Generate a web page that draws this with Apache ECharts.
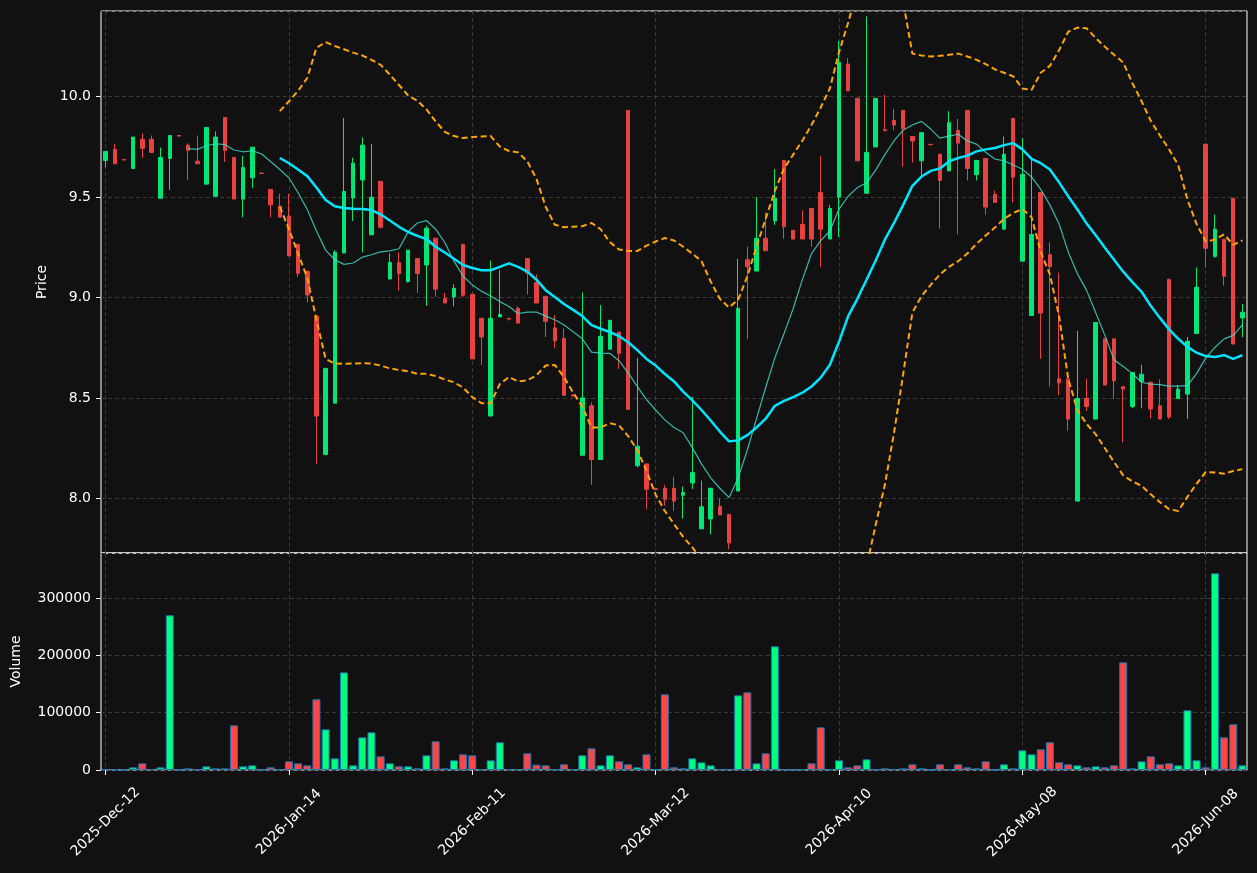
<!DOCTYPE html>
<html>
<head>
<meta charset="utf-8">
<script src="https://cdn.jsdelivr.net/npm/echarts@6/dist/echarts.min.js"></script>
<style>
html, body { margin: 0; padding: 0; background: #111111; }
#chart { width: 1257px; height: 873px; }
</style>
</head>
<body>
<div id="chart"></div>
<script>
// trading days: weekdays from the start date, minus these closed days
const startDate = '2025-12-12';
const holidays = ['2025-12-25', '2025-12-26', '2026-01-01', '2026-02-16', '2026-04-03', '2026-05-25'];
const monthNames = ['Jan', 'Feb', 'Mar', 'Apr', 'May', 'Jun', 'Jul', 'Aug', 'Sep', 'Oct', 'Nov', 'Dec'];

const opens = [
    9.682, 9.737, 9.687, 9.642, 9.787, 9.787, 9.494, 9.692, 9.806, 9.758,
    9.678, 9.564, 9.504, 9.896, 9.697, 9.490, 9.596, 9.619, 9.538, 9.455,
    9.404, 9.265, 9.131, 8.908, 8.220, 8.475, 9.222, 9.495, 9.585, 9.312,
    9.578, 9.092, 9.175, 9.080, 9.194, 9.162, 9.295, 8.996, 9.003, 9.265,
    9.016, 8.897, 8.411, 8.904, 8.897, 8.947, 9.194, 9.075, 9.006, 8.849,
    8.797, 8.515, 8.216, 8.462, 8.195, 8.743, 8.828, 9.931, 8.164, 8.173,
    8.050, 8.052, 8.052, 8.017, 8.078, 7.850, 7.899, 7.962, 7.922, 8.038,
    9.188, 9.132, 9.295, 9.381, 9.682, 9.334, 9.364, 9.443, 9.523, 9.291,
    9.499, 10.161, 9.991, 9.519, 9.749, 9.834, 9.881, 9.931, 9.801, 9.680,
    9.762, 9.713, 9.630, 9.832, 9.931, 9.611, 9.692, 9.513, 9.340, 9.891,
    9.181, 8.911, 9.523, 9.213, 8.596, 8.596, 7.988, 8.498, 8.396, 8.795,
    8.795, 8.557, 8.458, 8.584, 8.579, 8.462, 9.091, 8.498, 8.520, 8.821,
    9.763, 9.205, 9.290, 9.494, 8.899
];
const highs = [
    9.727, 9.765, 9.687, 9.798, 9.817, 9.806, 9.746, 9.806, 9.806, 9.767,
    9.806, 9.846, 9.827, 9.896, 9.697, 9.706, 9.748, 9.619, 9.538, 9.516,
    9.516, 9.265, 9.131, 8.908, 8.648, 9.236, 9.893, 9.696, 9.796, 9.765,
    9.578, 9.219, 9.224, 9.236, 9.194, 9.357, 9.295, 9.023, 9.067, 9.265,
    9.016, 8.897, 9.184, 9.136, 8.898, 8.956, 9.194, 9.115, 9.006, 8.914,
    8.847, 8.520, 9.025, 8.479, 8.963, 8.887, 8.828, 9.931, 8.700, 8.173,
    8.050, 8.069, 8.109, 8.060, 8.506, 8.090, 8.052, 8.000, 7.922, 9.193,
    9.253, 9.500, 9.423, 9.639, 9.682, 9.334, 9.433, 9.443, 9.703, 9.461,
    10.277, 10.190, 9.991, 10.398, 9.991, 10.009, 9.939, 9.931, 9.801, 9.820,
    9.762, 9.713, 9.927, 9.888, 9.931, 9.682, 9.692, 9.532, 9.801, 9.891,
    9.793, 9.689, 9.523, 9.274, 9.124, 8.596, 8.835, 8.596, 8.876, 8.795,
    8.795, 8.557, 8.627, 8.666, 8.579, 8.593, 9.091, 8.565, 8.804, 9.150,
    9.763, 9.412, 9.290, 9.494, 8.968
];
const lows = [
    9.647, 9.665, 9.684, 9.642, 9.694, 9.722, 9.494, 9.535, 9.803, 9.585,
    9.665, 9.564, 9.504, 9.675, 9.490, 9.400, 9.545, 9.617, 9.400, 9.400,
    9.207, 9.103, 8.977, 8.173, 8.215, 8.475, 9.222, 9.381, 9.224, 9.312,
    9.343, 9.092, 9.034, 9.075, 9.023, 8.959, 9.003, 8.973, 8.956, 9.003,
    8.695, 8.665, 8.411, 8.904, 8.886, 8.873, 9.015, 8.973, 8.804, 8.748,
    8.510, 8.505, 8.216, 8.069, 8.195, 8.743, 8.645, 8.444, 8.156, 7.948,
    8.046, 7.965, 7.939, 7.901, 8.048, 7.850, 7.822, 7.919, 7.749, 8.038,
    8.795, 9.132, 9.233, 9.362, 9.293, 9.291, 9.291, 9.253, 9.153, 9.291,
    9.302, 10.028, 9.680, 9.519, 9.749, 9.828, 9.832, 9.651, 9.672, 9.608,
    9.760, 9.343, 9.630, 9.314, 9.582, 9.582, 9.412, 9.473, 9.340, 9.473,
    9.181, 8.911, 8.695, 8.557, 8.515, 8.337, 7.988, 8.437, 8.396, 8.565,
    8.498, 8.280, 8.450, 8.449, 8.398, 8.396, 8.396, 8.498, 8.396, 8.821,
    9.150, 9.198, 9.060, 8.769, 8.804
];
const closes = [
    9.727, 9.665, 9.684, 9.798, 9.742, 9.722, 9.697, 9.806, 9.803, 9.732,
    9.665, 9.846, 9.798, 9.732, 9.490, 9.647, 9.748, 9.617, 9.461, 9.400,
    9.207, 9.120, 9.013, 8.411, 8.648, 9.226, 9.528, 9.668, 9.758, 9.499,
    9.350, 9.175, 9.120, 9.236, 9.120, 9.345, 9.042, 8.973, 9.046, 9.011,
    8.695, 8.804, 8.897, 8.916, 8.893, 8.873, 9.122, 8.973, 8.882, 8.785,
    8.515, 8.512, 8.501, 8.195, 8.807, 8.887, 8.723, 8.444, 8.261, 8.047,
    8.046, 7.997, 7.988, 8.031, 8.130, 7.960, 8.052, 7.919, 7.780, 8.947,
    9.153, 9.295, 9.233, 9.494, 9.352, 9.291, 9.291, 9.291, 9.340, 9.443,
    10.169, 10.028, 9.680, 9.722, 9.991, 9.830, 9.858, 9.839, 9.779, 9.820,
    9.760, 9.582, 9.870, 9.768, 9.642, 9.682, 9.450, 9.473, 9.713, 9.599,
    9.613, 9.314, 8.923, 9.153, 8.576, 8.396, 8.498, 8.458, 8.876, 8.565,
    8.586, 8.545, 8.627, 8.619, 8.446, 8.396, 8.406, 8.545, 8.783, 9.051,
    9.245, 9.340, 9.106, 8.769, 8.927
];
const volumes = [
    1200, 1200, 300, 4650, 11600, 1200, 4650, 269800, 300, 2900,
    1200, 6400, 2900, 2900, 77900, 6400, 8100, 300, 4650, 1200,
    15100, 11600, 8100, 123300, 70900, 20300, 170300, 8100, 57000, 65700,
    23800, 11600, 6400, 6400, 2900, 25600, 50000, 2900, 16900, 27300,
    25600, 1200, 16900, 48300, 1200, 1200, 29100, 9300, 8100, 1200,
    9900, 1200, 25600, 37800, 8100, 25600, 15100, 9900, 4650, 27300,
    1200, 132000, 4650, 2900, 20300, 13400, 8100, 1200, 1200, 130200,
    135500, 11600, 29100, 215700, 1200, 300, 1200, 11600, 74400, 1200,
    16900, 4650, 8100, 18600, 1200, 2900, 1200, 2900, 9900, 2900,
    300, 9900, 1200, 9900, 4650, 2900, 15100, 300, 9900, 2900,
    34300, 27300, 36000, 48300, 13400, 9900, 8100, 4650, 6400, 4650,
    8100, 187800, 2900, 15100, 23800, 9900, 11600, 8100, 104100, 16900,
    4650, 343000, 57000, 79700, 8100
];
// moving averages and bands (null = not drawn)
const ma10 = [
    null, null, null, null, null, null, null, null, null, 9.741,
    9.737, 9.755, 9.765, 9.761, 9.734, 9.725, 9.730, 9.715, 9.677, 9.637,
    9.596, 9.521, 9.438, 9.331, 9.236, 9.188, 9.165, 9.172, 9.201, 9.213,
    9.227, 9.232, 9.243, 9.328, 9.371, 9.383, 9.340, 9.274, 9.181, 9.106,
    9.063, 9.032, 9.008, 8.980, 8.956, 8.921, 8.928, 8.928, 8.908, 8.890,
    8.864, 8.830, 8.795, 8.729, 8.724, 8.723, 8.686, 8.626, 8.557, 8.493,
    8.441, 8.392, 8.354, 8.328, 8.254, 8.173, 8.104, 8.052, 8.005, 8.104,
    8.242, 8.398, 8.553, 8.700, 8.821, 8.946, 9.089, 9.219, 9.283, 9.331,
    9.440, 9.504, 9.547, 9.570, 9.634, 9.711, 9.780, 9.832, 9.858, 9.876,
    9.838, 9.793, 9.803, 9.812, 9.779, 9.763, 9.723, 9.689, 9.680, 9.659,
    9.638, 9.600, 9.538, 9.461, 9.366, 9.227, 9.118, 9.037, 8.925, 8.812,
    8.691, 8.657, 8.622, 8.579, 8.570, 8.567, 8.560, 8.560, 8.562, 8.622,
    8.700, 8.752, 8.795, 8.812, 8.864
];
const ma20 = [
    null, null, null, null, null, null, null, null, null, null,
    null, null, null, null, null, null, null, null, null, 9.694,
    9.668, 9.637, 9.604, 9.547, 9.485, 9.454, 9.445, 9.442, 9.440, 9.435,
    9.414, 9.383, 9.352, 9.326, 9.307, 9.291, 9.253, 9.224, 9.193, 9.162,
    9.147, 9.136, 9.136, 9.153, 9.170, 9.153, 9.129, 9.089, 9.037, 9.003,
    8.968, 8.939, 8.908, 8.863, 8.845, 8.828, 8.809, 8.778, 8.739, 8.695,
    8.662, 8.620, 8.583, 8.532, 8.489, 8.441, 8.389, 8.334, 8.285, 8.290,
    8.316, 8.354, 8.398, 8.462, 8.486, 8.505, 8.527, 8.558, 8.602, 8.666,
    8.780, 8.908, 8.994, 9.089, 9.184, 9.288, 9.371, 9.461, 9.556, 9.602,
    9.630, 9.642, 9.677, 9.694, 9.706, 9.727, 9.737, 9.744, 9.758, 9.768,
    9.737, 9.690, 9.668, 9.637, 9.573, 9.504, 9.438, 9.369, 9.310, 9.248,
    9.188, 9.129, 9.077, 9.029, 8.959, 8.899, 8.842, 8.795, 8.755, 8.726,
    8.709, 8.705, 8.714, 8.695, 8.714
];
const bandUpper = [
    null, null, null, null, null, null, null, null, null, null,
    null, null, null, null, null, null, null, null, null, 9.927,
    9.976, 10.028, 10.092, 10.242, 10.270, 10.251, 10.235, 10.218, 10.204, 10.182,
    10.157, 10.109, 10.057, 10.005, 9.979, 9.936, 9.876, 9.824, 9.803, 9.793,
    9.798, 9.801, 9.803, 9.751, 9.729, 9.722, 9.677, 9.590, 9.452, 9.362,
    9.350, 9.352, 9.355, 9.371, 9.340, 9.276, 9.239, 9.232, 9.232, 9.258,
    9.279, 9.296, 9.284, 9.253, 9.219, 9.181, 9.080, 8.994, 8.951, 8.990,
    9.106, 9.253, 9.392, 9.530, 9.642, 9.711, 9.780, 9.858, 9.945, 10.040,
    10.220, 10.368, 10.530, 10.600, 10.630, 10.620, 10.560, 10.470, 10.213, 10.204,
    10.199, 10.202, 10.207, 10.213, 10.199, 10.182, 10.161, 10.135, 10.118, 10.100,
    10.040, 10.032, 10.118, 10.152, 10.230, 10.322, 10.342, 10.339, 10.290, 10.247,
    10.207, 10.169, 10.066, 9.976, 9.879, 9.806, 9.737, 9.659, 9.487, 9.366,
    9.279, 9.288, 9.314, 9.262, 9.284
];
const bandLower = [
    null, null, null, null, null, null, null, null, null, null,
    null, null, null, null, null, null, null, null, null, 9.452,
    9.340, 9.219, 9.098, 8.890, 8.695, 8.672, 8.671, 8.672, 8.674, 8.672,
    8.662, 8.648, 8.640, 8.634, 8.621, 8.621, 8.610, 8.593, 8.579, 8.553,
    8.505, 8.475, 8.475, 8.570, 8.605, 8.583, 8.588, 8.614, 8.662, 8.665,
    8.605, 8.527, 8.458, 8.354, 8.354, 8.375, 8.365, 8.311, 8.242, 8.138,
    8.020, 7.939, 7.874, 7.810, 7.758, 7.700, 7.698, 7.674, 7.619, 7.590,
    7.526, 7.455, 7.404, 7.394, 7.330, 7.299, 7.274, 7.258, 7.259, 7.292,
    7.340, 7.448, 7.458, 7.663, 7.870, 8.069, 8.328, 8.620, 8.925, 9.008,
    9.063, 9.115, 9.153, 9.181, 9.219, 9.267, 9.309, 9.348, 9.392, 9.421,
    9.440, 9.400, 9.227, 9.115, 8.908, 8.596, 8.441, 8.372, 8.320, 8.251,
    8.182, 8.116, 8.086, 8.064, 8.022, 7.983, 7.948, 7.939, 8.009, 8.074,
    8.133, 8.130, 8.124, 8.138, 8.147
];

const upColor = '#00e676';
const downColor = '#e84142';
const volUp = '#00ff7f';
const volDown = '#ff4545';
const textColor = '#ffffff';
const gridLine = '#3a3a3a';
const font = 'DejaVu Sans';

function tradingDays(start, count) {
    const out = [];
    const d = new Date(start + 'T00:00:00Z');
    while (out.length < count) {
        const iso = d.toISOString().slice(0, 10);
        const wd = d.getUTCDay();
        if (wd !== 0 && wd !== 6 && holidays.indexOf(iso) < 0) {
            out.push(d.getUTCFullYear() + '-' + monthNames[d.getUTCMonth()] + '-' + iso.slice(8, 10));
        }
        d.setUTCDate(d.getUTCDate() + 1);
    }
    return out;
}

const dates = tradingDays(startDate, opens.length);
const candles = opens.map((o, i) => [o, closes[i], lows[i], highs[i]]);
const volumeBars = volumes.map((v, i) => ({
    value: v,
    itemStyle: { color: closes[i] >= opens[i] ? volUp : volDown }
}));
const dash = (arr) => arr.map(v => (v === null ? '-' : v));

const chart = echarts.init(document.getElementById('chart'));

const xAxisBase = {
    type: 'category',
    data: dates,
    boundaryGap: true,
    axisLine: { show: false },
    splitLine: {
        show: true,
        interval: 19,
        alignWithLabel: true,
        lineStyle: { color: gridLine, type: [4, 3], width: 1 }
    }
};

chart.setOption({
    animation: false,
    backgroundColor: '#111111',
    grid: [
        { left: 101, right: 10, top: 11, height: 542, show: true, borderColor: '#ffffff', borderWidth: 1, backgroundColor: 'transparent' },
        { left: 101, right: 10, top: 553, height: 217, show: true, borderColor: '#ffffff', borderWidth: 1, backgroundColor: 'transparent' }
    ],
    xAxis: [
        Object.assign({}, xAxisBase, {
            gridIndex: 0,
            axisTick: { show: false },
            axisLabel: { show: false, interval: 19 }
        }),
        Object.assign({}, xAxisBase, {
            gridIndex: 1,
            axisTick: { show: true, interval: 19, alignWithLabel: true, length: 5, lineStyle: { color: textColor } },
            axisLabel: {
                show: true, interval: 19, rotate: 45, margin: 52,
                align: 'center', verticalAlign: 'middle',
                color: textColor, fontFamily: font, fontSize: 14
            }
        })
    ],
    yAxis: [
        {
            type: 'value',
            gridIndex: 0,
            min: 7.73,
            max: 10.425,
            splitNumber: 5,
            name: 'Price',
            nameLocation: 'middle',
            nameGap: 52,
            nameTextStyle: { color: textColor, fontFamily: font, fontSize: 14 },
            axisLine: { show: false },
            axisTick: { show: true, length: 5, lineStyle: { color: textColor } },
            axisLabel: {
                color: textColor, fontFamily: font, fontSize: 14, margin: 10,
                showMinLabel: false, showMaxLabel: false,
                formatter: (v) => v.toFixed(1)
            },
            splitLine: { show: true, lineStyle: { color: gridLine, type: [4, 3], width: 1 } }
        },
        {
            type: 'value',
            gridIndex: 1,
            min: 0,
            max: 378500,
            interval: 100000,
            name: 'Volume',
            nameLocation: 'middle',
            nameGap: 78,
            nameTextStyle: { color: textColor, fontFamily: font, fontSize: 14 },
            axisLine: { show: false },
            axisTick: { show: true, length: 5, lineStyle: { color: textColor } },
            axisLabel: {
                color: textColor, fontFamily: font, fontSize: 14, margin: 10,
                showMaxLabel: false,
                formatter: (v) => String(v)
            },
            splitLine: { show: true, lineStyle: { color: gridLine, type: [4, 3], width: 1 } }
        }
    ],
    series: [
        {
            name: 'OHLC',
            type: 'candlestick',
            xAxisIndex: 0,
            yAxisIndex: 0,
            data: candles,
            barWidth: 4,
            itemStyle: {
                color: upColor,
                color0: downColor,
                borderColor: upColor,
                borderColor0: downColor,
                borderWidth: 1
            }
        },
        {
            name: 'MA10',
            type: 'line',
            xAxisIndex: 0,
            yAxisIndex: 0,
            data: dash(ma10),
            showSymbol: false,
            lineStyle: { color: 'rgba(64,224,208,0.8)', width: 1.2 }
        },
        {
            name: 'MA20',
            type: 'line',
            xAxisIndex: 0,
            yAxisIndex: 0,
            data: dash(ma20),
            showSymbol: false,
            lineStyle: { color: '#00e5ff', width: 2.5 }
        },
        {
            name: 'Upper',
            type: 'line',
            xAxisIndex: 0,
            yAxisIndex: 0,
            data: dash(bandUpper),
            showSymbol: false,
            lineStyle: { color: '#ffa500', width: 2, type: [6, 3.5] }
        },
        {
            name: 'Lower',
            type: 'line',
            xAxisIndex: 0,
            yAxisIndex: 0,
            data: dash(bandLower),
            showSymbol: false,
            lineStyle: { color: '#ffa500', width: 2, type: [6, 3.5] }
        },
        {
            name: 'Volume',
            type: 'bar',
            xAxisIndex: 1,
            yAxisIndex: 1,
            data: volumeBars,
            barWidth: 8,
            itemStyle: { borderColor: '#1f77b4', borderWidth: 1 }
        }
    ]
});
</script>
</body>
</html>
